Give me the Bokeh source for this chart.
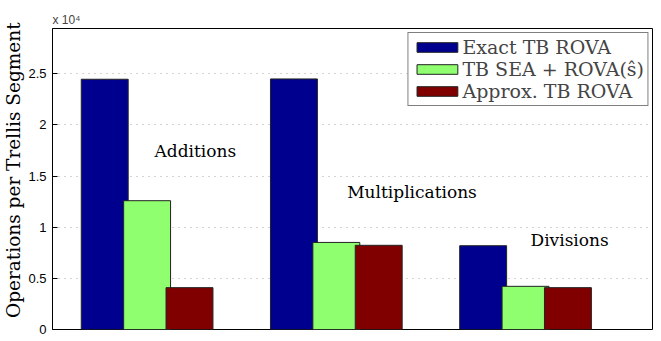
from bokeh.plotting import figure
from bokeh.models import (ColumnDataSource, FixedTicker, Legend, LegendItem,
                          Label, Range1d)
from bokeh.embed import file_html
from bokeh.resources import INLINE

# ---- data ----
categories = ["Additions", "Multiplications", "Divisions"]
group_pos = [1, 2, 3]
exact_tb_rova = [24460, 24490, 8190]
tb_sea_rova = [12590, 8510, 4220]
approx_tb_rova = [4090, 8230, 4090]
series_names = ["Exact TB ROVA", "TB SEA + ROVA(ŝ)", "Approx. TB ROVA"]
series_colors = ["#00008F", "#8FFF70", "#800000"]
y_ticks = [0, 5000, 10000, 15000, 20000, 25000]
y_tick_labels = ["0", "0.5", "1", "1.5", "2", "2.5"]
label_pos_x = [1.255, 2.40, 3.233]
label_pos_y = [17450, 13400, 8780]

SERIF = "DejaVu Serif"
SANS = "Liberation Sans"

p = figure(width=660, height=340, output_backend="svg", toolbar_location=None,
           x_range=Range1d(0.5, 3.671), y_range=Range1d(0, 29420),
           x_axis_location=None, min_border_left=51, min_border_right=8,
           min_border_top=28, min_border_bottom=11,
           title="x 10\u2074")
p.background_fill_color = "white"
p.border_fill_color = "white"
p.outline_line_color = "black"
p.outline_line_width = 1

p.title.text_font = SANS
p.title.text_font_size = "12px"
p.title.text_font_style = "normal"
p.title.align = "left"
p.title.standoff = 4
p.title.offset = 0

offset = 0.224
bar_w = 0.248
series = [exact_tb_rova, tb_sea_rova, approx_tb_rova]
renderers = []
for i, (vals, col) in enumerate(zip(series, series_colors)):
    src = ColumnDataSource(dict(x=[g + (i - 1) * offset for g in group_pos], top=vals))
    r = p.vbar(x="x", top="top", width=bar_w, bottom=0, source=src,
               fill_color=col, line_color="#222222", line_width=1)
    renderers.append(r)

# y axis
yax = p.yaxis[0]
yax.ticker = FixedTicker(ticks=y_ticks)
yax.major_label_overrides = {t: l for t, l in zip(y_ticks, y_tick_labels)}
yax.major_tick_in = 5
yax.major_tick_out = 0
yax.minor_tick_line_color = None
yax.major_label_standoff = 6
yax.major_label_text_font = SANS
yax.major_label_text_font_size = "13px"
yax.major_label_text_color = "black"
yax.axis_line_color = "black"
yax.axis_label = "\u00a0\u00a0\u00a0Operations per Trellis Segment"
yax.axis_label_text_font = SERIF
yax.axis_label_text_font_size = "18.5px"
yax.axis_label_text_font_style = "normal"
yax.axis_label_text_color = "black"
yax.axis_label_standoff = 1

p.xgrid.visible = False
p.ygrid.ticker = FixedTicker(ticks=y_ticks[1:])
p.ygrid.grid_line_color = "#a8a8a8"
p.ygrid.grid_line_dash = "1 5"
p.ygrid.grid_line_width = 1

# group labels
for name, lx, ly in zip(categories, label_pos_x, label_pos_y):
    p.add_layout(Label(x=lx, y=ly, text=name, text_font=SERIF, text_font_size="17px",
                       text_align="center", text_baseline="middle", text_color="black"))

legend = Legend(items=[LegendItem(label=n, renderers=[r]) for n, r in zip(series_names, renderers)],
                location="top_right", margin=4, padding=3, spacing=0,
                glyph_width=51, glyph_height=12, label_height=20, label_standoff=-2,
                label_text_font=SERIF, label_text_font_size="19px",
                border_line_color="black", border_line_width=1,
                background_fill_alpha=1.0)
p.add_layout(legend)

open("out.html", "w").write(file_html(p, INLINE))
